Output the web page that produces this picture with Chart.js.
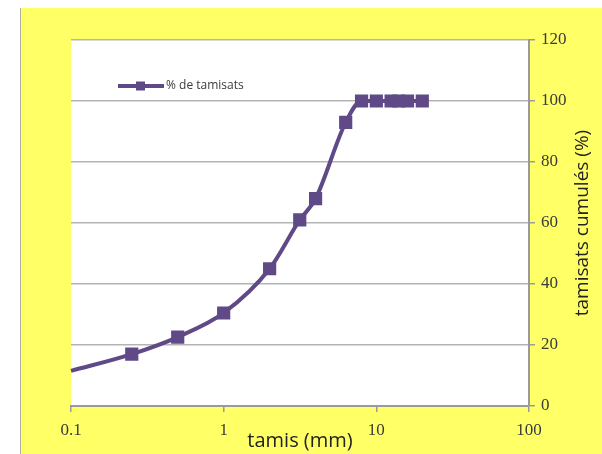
<!DOCTYPE html>
<html>
<head>
<meta charset="utf-8">
<script src="https://cdn.jsdelivr.net/npm/chart.js@4.4.1/dist/chart.umd.min.js"></script>
<style>
  html, body { margin: 0; padding: 0; background: #fff; }
  #box {
    position: absolute; left: 20px; top: 8px; width: 582px; height: 446px;
    background: #ffff66; border-left: 1px solid #b0b0a0; box-sizing: border-box;
  }
  #wrap { position: absolute; left: -1px; top: 0; width: 582px; height: 446px; }
</style>
</head>
<body>
<div id="box"><div id="wrap"><canvas id="myChart"></canvas></div></div>
<script>
// tamis (mm) et % de tamisats
let sieves = [0.1, 0.25, 0.5, 1, 2, 3.15, 4, 6.3, 8, 10, 12.5, 14, 16, 20];
let passing = [11.5, 17, 22.6, 30.5, 45, 61, 68, 93, 100, 100, 100, 100, 100, 100];
let xTicks = [0.1, 1, 10, 100];
let yTicks = [0, 20, 40, 60, 80, 100, 120];
let seriesLabel = "% de tamisats";
let yTitle = "tamisats cumulés (%)";

let purple = "#5f4a87",
  gridColor = "#b4b4b4",
  axisColor = "#9a9a9a",
  textColor = "#3a3a3a";

let points = sieves.map((s, i) => ({ x: s, y: passing[i] }));

let plotBg = {
  id: "plotBg",
  beforeDraw(chart) {
    let a = chart.chartArea, c = chart.ctx;
    c.save();
    c.fillStyle = "#fff";
    c.fillRect(a.left, a.top, a.right - a.left, a.bottom - a.top);
    c.restore();
  },
};

// legende dans la zone de tracé, comme dans Excel
let insideLegend = {
  id: "insideLegend",
  afterDraw(chart) {
    let c = chart.ctx, ds = chart.data.datasets[0];
    let x0 = 98, y0 = 78;
    c.save();
    c.strokeStyle = ds.borderColor;
    c.lineWidth = 4;
    c.beginPath();
    c.moveTo(x0, y0);
    c.lineTo(x0 + 46, y0);
    c.stroke();
    c.fillStyle = ds.borderColor;
    c.fillRect(x0 + 18, y0 - 4.5, 9, 9);
    c.fillStyle = textColor;
    c.font = '12px "Open Sans"';
    c.textBaseline = "middle";
    c.fillText(ds.label, x0 + 48, y0);
    c.restore();
  },
};

// titre de l'axe droit, lu de bas en haut
let rightTitle = {
  id: "rightTitle",
  afterDraw(chart) {
    let c = chart.ctx, a = chart.chartArea;
    c.save();
    c.translate(chart.scales.y.right - 19, (a.top + a.bottom) / 2);
    c.rotate(-Math.PI / 2);
    c.fillStyle = "#222";
    c.font = '19px "Open Sans"';
    c.textAlign = "center";
    c.textBaseline = "middle";
    c.fillText(yTitle, 0, 0);
    c.restore();
  },
};

var ctx = document.getElementById("myChart").getContext("2d");
var myChart = new Chart(ctx, {
  type: "line",
  data: {
    datasets: [
      {
        label: seriesLabel,
        data: points,
        borderColor: purple,
        backgroundColor: purple,
        borderWidth: 4,
        pointStyle: "rect",
        pointRadius: sieves.map((s, i) => (i == 0 ? 0 : 6.5)),
        pointHoverRadius: 6.5,
        cubicInterpolationMode: "monotone",
        clip: false,
      },
    ],
  },
  plugins: [plotBg, insideLegend, rightTitle],
  options: {
    responsive: true,
    maintainAspectRatio: false,
    animation: false,
    layout: { padding: { left: 51, top: 32, right: 0, bottom: 0 } },
    plugins: { legend: { display: false }, tooltip: { enabled: false } },
    scales: {
      x: {
        type: "logarithmic",
        min: 0.1,
        max: 100,
        afterBuildTicks: (s) => { s.ticks = xTicks.map((v) => ({ value: v })); },
        afterFit: (s) => { s.height = 48; },
        ticks: {
          callback: (v) => String(v),
          color: textColor,
          font: { family: '"Liberation Serif"', size: 17 },
          padding: 8,
          maxRotation: 0,
        },
        grid: { drawOnChartArea: false, tickLength: 6, color: axisColor, lineWidth: 1.5 },
        border: { color: axisColor, width: 2 },
        title: {
          display: true,
          text: "tamis (mm)",
          color: "#222",
          font: { family: '"Open Sans"', size: 20 },
          padding: { top: 0, bottom: 1 },
        },
      },
      y: {
        position: "right",
        min: 0,
        max: 120,
        afterBuildTicks: (s) => { s.ticks = yTicks.map((v) => ({ value: v })); },
        afterFit: (s) => { s.width = 73; },
        ticks: {
          color: textColor,
          font: { family: '"Liberation Serif"', size: 17 },
          padding: 6,
        },
        grid: { color: gridColor, lineWidth: 1.5, tickLength: 6, tickColor: axisColor },
        border: { color: axisColor, width: 2 },
        title: { display: false },
      },
    },
  },
});
</script>
</body>
</html>
